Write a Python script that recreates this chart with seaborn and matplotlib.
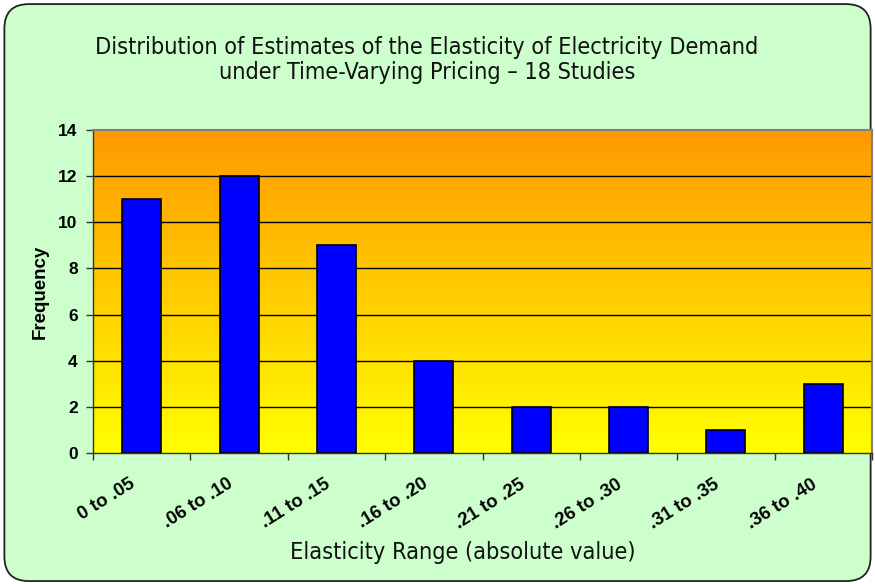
import numpy as np
import pandas as pd
import matplotlib
matplotlib.use("Agg")
import matplotlib.pyplot as plt
from matplotlib.patches import FancyBboxPatch
from matplotlib.colors import LinearSegmentedColormap
import seaborn as sns

# Frequency of elasticity estimates by range
ranges = ["0 to .05", ".06 to .10", ".11 to .15", ".16 to .20",
          ".21 to .25", ".26 to .30", ".31 to .35", ".36 to .40"]
frequency = [11, 12, 9, 4, 2, 2, 1, 3]
y_ticks = [0, 2, 4, 6, 8, 10, 12, 14]

title = ("Distribution of Estimates of the Elasticity of Electricity Demand\n"
         "under Time-Varying Pricing \u2013 18 Studies")
x_label = "Elasticity Range (absolute value)"
y_label = "Frequency"

sns.set_style("white")
plt.rcParams["font.family"] = ["Liberation Sans", "DejaVu Sans"]

df = pd.DataFrame({"range": ranges, "frequency": frequency})

fig = plt.figure(figsize=(8.75, 5.84), dpi=100)
fig.patch.set_facecolor("white")

# Rounded light-green chart panel
panel = FancyBboxPatch((0.005, 0.005), 0.99, 0.988,
                       boxstyle="round,pad=0,rounding_size=0.028",
                       transform=fig.transFigure, facecolor="#CCFFCC",
                       edgecolor="#222222", linewidth=1.3, zorder=-10,
                       mutation_aspect=875 / 584)
fig.patches.append(panel)

ax = fig.add_axes([93 / 875, 1 - 453 / 584, (872 - 93) / 875, (453 - 130) / 584])
ax.set_zorder(1)

# Orange-to-yellow gradient fill of the plotting area
grad = np.linspace(0, 1, 256).reshape(-1, 1)
cmap = LinearSegmentedColormap.from_list("oy", ["#FFFF00", "#FF9900"])
ax.imshow(grad, aspect="auto", cmap=cmap, origin="lower",
          extent=[0, 1, 0, 1], transform=ax.transAxes, zorder=0)

sns.barplot(data=df, x="range", y="frequency", color="#0000FF",
            edgecolor="black", linewidth=1.2, width=0.4, saturation=1,
            ax=ax, zorder=3)

ax.set_xlim(-0.5, len(ranges) - 0.5)
ax.set_ylim(0, 14)
ax.set_yticks(y_ticks)
ax.set_yticklabels([str(v) for v in y_ticks], fontsize=12.5, fontweight="bold",
                   color="black")
for v in y_ticks[1:-1]:
    ax.axhline(v, color="black", linewidth=1.0, zorder=1)

# Category labels near centres, tick marks at category boundaries
ax.set_xticks(np.arange(len(ranges)) - 0.08)
ax.set_xticklabels(ranges, fontsize=13.3, fontweight="bold", rotation=32,
                   ha="right", va="center", rotation_mode="anchor",
                   color="black")
ax.set_xticks(np.arange(-0.5, len(ranges)), minor=True)
ax.tick_params(axis="x", which="major", length=0, pad=21.5)
ax.tick_params(axis="x", which="minor", length=5, width=1, color="#333333",
               direction="out", bottom=True)
ax.tick_params(axis="y", length=5, width=1, color="#333333", direction="out",
               pad=6, left=True)

for side in ["top", "right"]:
    ax.spines[side].set_color("#808080")
    ax.spines[side].set_linewidth(1.5)
for side in ["left", "bottom"]:
    ax.spines[side].set_color("#333333")
    ax.spines[side].set_linewidth(1.0)

ax.set_xlabel("")
ax.set_ylabel(y_label, fontsize=13.5, fontweight="bold", labelpad=7,
              color="black")

fig.text(427 / 875, 1 - 60 / 584, title, ha="center", va="center",
         fontsize=16.8, family="DejaVu Sans", stretch="condensed",
         linespacing=1.12, color="#111111")
fig.text(463 / 875, 1 - 552 / 584, x_label, ha="center", va="center",
         fontsize=16.8, family="DejaVu Sans", stretch="condensed",
         color="#111111")

fig.savefig("out.png", dpi=100, facecolor=fig.get_facecolor())
